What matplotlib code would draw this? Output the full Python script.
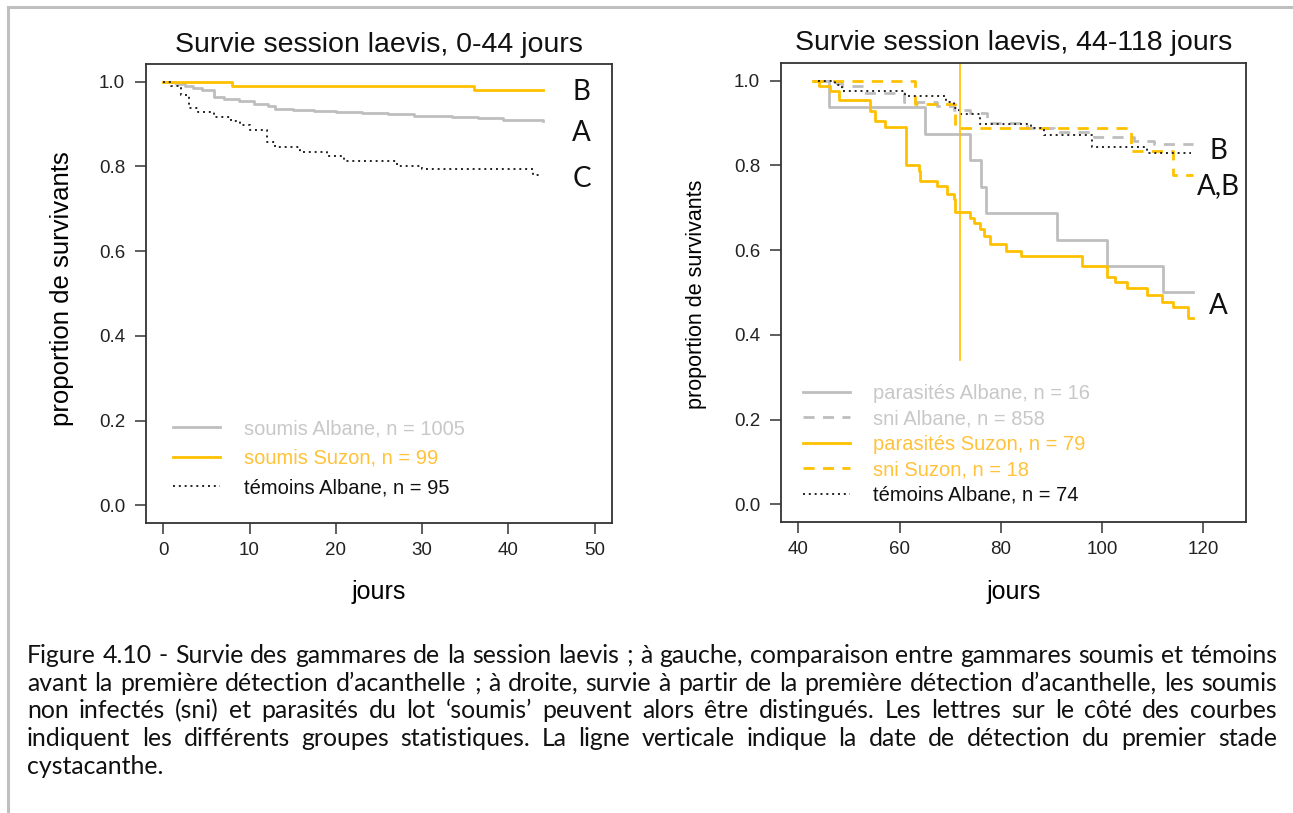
import matplotlib
matplotlib.use('Agg')
import matplotlib.pyplot as plt
from matplotlib.lines import Line2D

# ---------------- data ----------------
# Left panel (0-44 jours)
left_albane_t = [0, 1.5, 2.5, 3.5, 4.5, 5.9, 7, 8.8, 10.5, 12.1, 13, 15, 17.5, 20, 23, 26, 29, 33.5, 36.5, 39.4, 44]
left_albane_s = [1.0, 0.995, 0.99, 0.985, 0.981, 0.964, 0.96, 0.954, 0.948, 0.942, 0.936, 0.934, 0.931, 0.928,
                 0.926, 0.923, 0.920, 0.917, 0.914, 0.910, 0.907]
left_suzon_t = [0, 8, 36, 44]
left_suzon_s = [1.0, 0.99, 0.98, 0.98]
left_temoins_t = [0, 0.9, 2.1, 3.0, 4.0, 5.9, 7.9, 8.9, 10.0, 12.0, 12.9, 15.9, 19.0, 20.9, 27.1, 30.0, 42.9, 43.6]
left_temoins_s = [1.0, 0.989, 0.968, 0.938, 0.928, 0.918, 0.908, 0.899, 0.885, 0.857, 0.845, 0.833, 0.824,
                  0.812, 0.802, 0.794, 0.781, 0.781]
left_labels = ["soumis Albane, n = 1005", "soumis Suzon, n = 99", "témoins Albane, n = 95"]
left_letters = ["B", "A", "C"]
left_letter_y = [0.976, 0.88, 0.771]

# Right panel (44-118 jours)
par_albane_t = [44, 46, 65, 74, 76, 77, 91, 101, 112, 118]
par_albane_s = [1.0, 0.9375, 0.875, 0.8125, 0.75, 0.6875, 0.625, 0.5625, 0.5, 0.5]
sni_albane_t = [44, 46, 48.6, 52.9, 60.8, 67.4, 70.7, 74.0, 77.3, 85.2, 90.5, 98.4, 106.3, 110.2, 118]
sni_albane_s = [1.0, 0.995, 0.987, 0.971, 0.95, 0.941, 0.93, 0.925, 0.901, 0.889, 0.879, 0.868, 0.858, 0.85, 0.85]
par_suzon_t = [43, 44.2, 46.3, 48, 54.1, 55.1, 57.2, 61.3, 63.8, 64.1, 67.4, 69.4, 70.7, 71.0, 74.0, 74.8, 75.8,
               76.6, 77.9, 81.1, 83.9, 96.1, 100.9, 102.6, 105.0, 108.9, 111.9, 113.9, 117.0, 118]
par_suzon_s = [1.0, 0.987, 0.975, 0.954, 0.928, 0.904, 0.891, 0.80, 0.787, 0.763, 0.751, 0.732, 0.72, 0.689,
               0.677, 0.665, 0.649, 0.634, 0.614, 0.598, 0.587, 0.562, 0.536, 0.525, 0.51, 0.493, 0.478, 0.465,
               0.439, 0.439]
sni_suzon_t = [43, 63, 71, 105.7, 113.9, 118]
sni_suzon_s = [1.0, 0.944, 0.889, 0.833, 0.778, 0.778]
temoins_t = [44, 47.3, 48.6, 61.1, 69.1, 70.7, 71.7, 75.8, 85.9, 88.5, 98.0, 108.9, 117.5]
temoins_s = [1.0, 0.99, 0.975, 0.963, 0.949, 0.936, 0.922, 0.899, 0.889, 0.871, 0.844, 0.83, 0.83]
right_labels = ["parasités Albane, n = 16", "sni Albane, n = 858", "parasités Suzon, n = 79",
                "sni Suzon, n = 18", "témoins Albane, n = 74"]
right_letters = ["B", "A,B", "A"]
right_letter_y = [0.833, 0.751, 0.468]
cystacanthe_day = 72
cystacanthe_ymin = 0.34

titles = ["Survie session laevis, 0-44 jours", "Survie session laevis, 44-118 jours"]
yticks = [0.0, 0.2, 0.4, 0.6, 0.8, 1.0]
left_xticks = [0, 10, 20, 30, 40, 50]
right_xticks = [40, 60, 80, 100, 120]

caption_lines = [
    "Figure 4.10 - Survie des gammares de la session laevis ; à gauche, comparaison entre gammares soumis et témoins",
    "avant la première détection d’acanthelle ; à droite, survie à partir de la première détection d’acanthelle, les soumis",
    "non infectés (sni) et parasités du lot ‘soumis’ peuvent alors être distingués. Les lettres sur le côté des courbes",
    "indiquent les différents groupes statistiques. La ligne verticale indique la date de détection du premier stade",
    "cystacanthe.",
]

# ---------------- style ----------------
W, H = 1293, 813
GRAY = '#BEBEBE'
ORANGE = '#FFC000'
GRAY_TXT = '#C8C8C8'
ORANGE_TXT = '#FFC23A'
AX_COL = '#333333'
SANS = ['Liberation Sans', 'DejaVu Sans']

plt.rcParams['font.family'] = SANS
fig = plt.figure(figsize=(W / 100, H / 100), dpi=100)


def px_axes(x0, y0, x1, y1):
    return fig.add_axes([x0 / W, 1 - y1 / H, (x1 - x0) / W, (y1 - y0) / H])


def style_axes(ax, xlim, xticks, title, ylab_size, ylab_x, ylab_y, xlab_y):
    ax.set_xlim(*xlim)
    ax.set_ylim(-0.042, 1.042)
    ax.set_xticks(xticks)
    ax.set_yticks(yticks)
    ax.set_yticklabels([f"{v:.1f}" for v in yticks])
    for sp in ax.spines.values():
        sp.set_color(AX_COL)
        sp.set_linewidth(1.3)
    ax.tick_params(direction='out', length=8, width=1.1, color=AX_COL, labelsize=13.5,
                   labelcolor='#222222', pad=6)
    ax.tick_params(axis='y', pad=7)
    ax.set_title(title, fontsize=20.5, pad=9, color='#111111')
    ax.set_xlabel('jours', fontsize=18)
    ax.xaxis.set_label_coords(0.5, xlab_y)
    ax.xaxis.label.set_verticalalignment('center')
    ax.set_ylabel('proportion de survivants', fontsize=ylab_size)
    ax.yaxis.set_label_coords(ylab_x, ylab_y)
    ax.yaxis.label.set_verticalalignment('center')


LW = 2.0
DASH = (4, 3)
DOT = (1, 2.0)

# ---------------- left panel ----------------
axL = px_axes(146, 64, 612, 523)
l1, = axL.step(left_albane_t, left_albane_s, where='post', color=GRAY, lw=LW)
l2, = axL.step(left_suzon_t, left_suzon_s, where='post', color=ORANGE, lw=LW)
l3, = axL.step(left_temoins_t, left_temoins_s, where='post', color='#222222', lw=1.4,
               linestyle=(0, DOT))
style_axes(axL, (-2, 52), left_xticks, titles[0], 18.5, -0.18, 0.51, -0.15)
legL = axL.legend([l1, l2, l3], left_labels, loc='upper left', bbox_to_anchor=(0.058, 0.226),
                  frameon=False, fontsize=14.5, handlelength=2.35, handletextpad=1.15,
                  labelspacing=0.52, borderpad=0, borderaxespad=0,
                  labelcolor=[GRAY_TXT, ORANGE_TXT, '#111111'])
for x_let, (txt, yv) in [(48.5, p) for p in zip(left_letters, left_letter_y)]:
    axL.text(x_let, yv, txt, ha='center', va='center', fontsize=20, family=['Lato', 'DejaVu Sans'],
             color='#111111')

# ---------------- right panel ----------------
axR = px_axes(781, 63, 1246, 522)
r1, = axR.step(par_albane_t, par_albane_s, where='post', color=GRAY, lw=LW)
r2, = axR.step(sni_albane_t, sni_albane_s, where='post', color=GRAY, lw=LW, linestyle=(0, DASH))
r3, = axR.step(par_suzon_t, par_suzon_s, where='post', color=ORANGE, lw=LW)
r4, = axR.step(sni_suzon_t, sni_suzon_s, where='post', color=ORANGE, lw=LW, linestyle=(0, DASH))
r5, = axR.step(temoins_t, temoins_s, where='post', color='#222222', lw=1.4, linestyle=(0, DOT))
axR.plot([cystacanthe_day, cystacanthe_day], [cystacanthe_ymin, 1.042], color=ORANGE, lw=1.2)
style_axes(axR, (36.6, 128.4), right_xticks, titles[1], 15.5, -0.181, 0.495, -0.152)
legR = axR.legend([r1, r2, r3, r4, r5], right_labels, loc='upper left', bbox_to_anchor=(0.047, 0.301),
                  frameon=False, fontsize=14.5, handlelength=2.35, handletextpad=1.15,
                  labelspacing=0.32, borderpad=0, borderaxespad=0,
                  labelcolor=[GRAY_TXT, GRAY_TXT, ORANGE_TXT, ORANGE_TXT, '#111111'])
for txt, yv in zip(right_letters, right_letter_y):
    axR.text(123.0, yv, txt, ha='center', va='center', fontsize=20, family=['Lato', 'DejaVu Sans'],
             color='#111111')

# ---------------- page border ----------------
fig.add_artist(Line2D([8 / W, 8 / W], [0, 1 - 7 / H], transform=fig.transFigure, color='#BFBFBF', lw=2.2))
fig.add_artist(Line2D([8 / W, 1], [1 - 7 / H, 1 - 7 / H], transform=fig.transFigure, color='#BFBFBF', lw=2.2))

# ---------------- justified caption ----------------
CAP_FONT = ['Lato', 'DejaVu Sans']
fig.canvas.draw()
rend = fig.canvas.get_renderer()


def text_width(s, fs):
    t = fig.text(0, 0, s, fontsize=fs, family=CAP_FONT)
    w = t.get_window_extent(rend).width
    t.remove()
    return w


cap_left, cap_right = 27, 1277
fs0 = 15.0
# largest size at which the longest line still fits with normal word spacing
fs = min(fs0 * (cap_right - cap_left - 4) / text_width(l, fs0) for l in caption_lines[:-1])
space_w = text_width("a a", fs) - text_width("aa", fs)
base0, line_h = 663, 27.7
for i, line in enumerate(caption_lines):
    words = line.split(' ')
    widths = [text_width(w, fs) for w in words]
    if i < len(caption_lines) - 1 and len(words) > 1:
        gap = (cap_right - cap_left - sum(widths)) / (len(words) - 1)
    else:
        gap = space_w
    x = cap_left
    yb = base0 + i * line_h
    for w, wd in zip(words, widths):
        fig.text(x / W, 1 - yb / H, w, fontsize=fs, family=CAP_FONT, va='baseline', ha='left',
                 color='#111111')
        x += wd + gap

fig.savefig('out.png', dpi=100)
